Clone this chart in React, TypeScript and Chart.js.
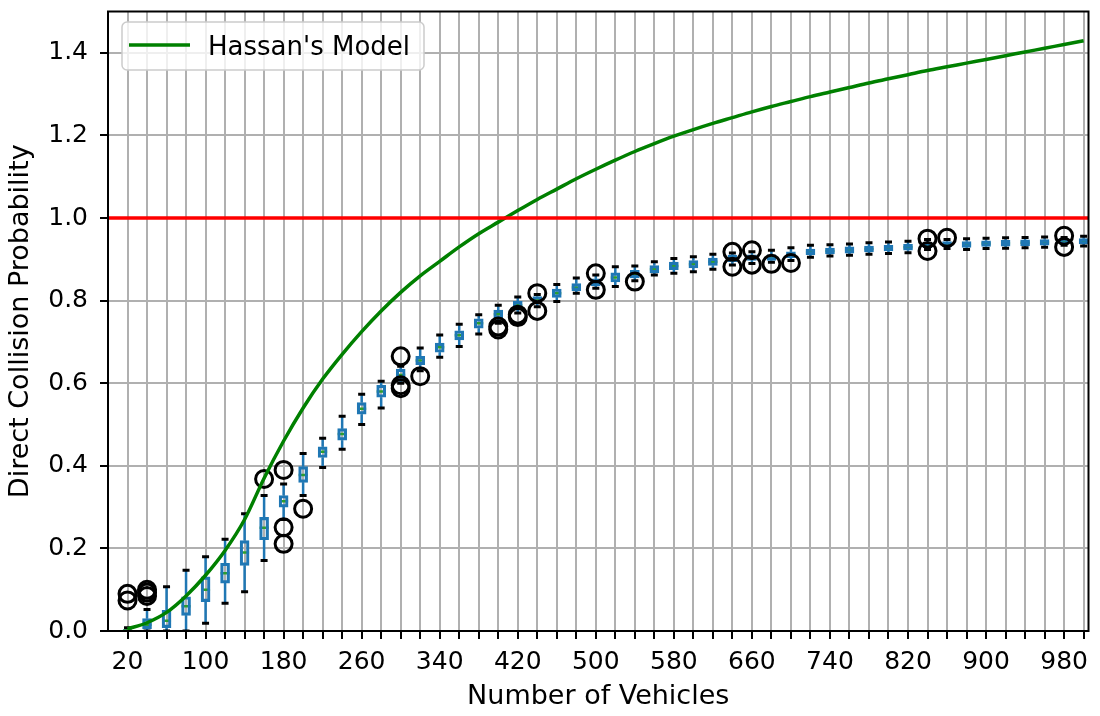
import React, { useEffect, useRef } from "react";
import { Chart, registerables } from "chart.js";

Chart.register(...registerables);

// Number of vehicles on the x axis (one box per count)
const vehicleCounts = [
  20, 40, 60, 80, 100, 120, 140, 160, 180, 200,
  220, 240, 260, 280, 300, 320, 340, 360, 380, 400,
  420, 440, 460, 480, 500, 520, 540, 560, 580, 600,
  620, 640, 660, 680, 700, 720, 740, 760, 780, 800,
  820, 840, 860, 880, 900, 920, 940, 960, 980, 1000,
];

// Box-plot statistics of the simulated direct collision probability
const whiskerLow = [
  0.0, 0.0, 0.0, 0.0, 0.019, 0.067, 0.095, 0.171, 0.27, 0.328,
  0.396, 0.44, 0.5, 0.54, 0.6, 0.63, 0.663, 0.689, 0.719, 0.745,
  0.77, 0.785, 0.798, 0.818, 0.83, 0.834, 0.848, 0.862, 0.866, 0.87,
  0.876, 0.886, 0.89, 0.893, 0.897, 0.905, 0.908, 0.91, 0.912, 0.914,
  0.916, 0.924, 0.926, 0.924, 0.926, 0.927, 0.928, 0.929, 0.934, 0.932,
];
const quartile1 = [
  0.0, 0.005, 0.008, 0.038, 0.071, 0.116, 0.159, 0.221, 0.3, 0.36,
  0.42, 0.462, 0.525, 0.566, 0.605, 0.645, 0.675, 0.705, 0.733, 0.757,
  0.78, 0.794, 0.808, 0.824, 0.836, 0.845, 0.855, 0.867, 0.875, 0.879,
  0.885, 0.894, 0.897, 0.897, 0.904, 0.911, 0.913, 0.915, 0.918, 0.92,
  0.922, 0.928, 0.93, 0.929, 0.931, 0.932, 0.933, 0.934, 0.937, 0.937,
];
const medians = [
  0.001, 0.015, 0.025, 0.06, 0.1, 0.14, 0.19, 0.25, 0.314, 0.378,
  0.434, 0.477, 0.538, 0.58, 0.62, 0.655, 0.687, 0.716, 0.745, 0.767,
  0.789, 0.802, 0.818, 0.832, 0.845, 0.856, 0.864, 0.876, 0.884, 0.888,
  0.894, 0.902, 0.904, 0.904, 0.911, 0.918, 0.92, 0.922, 0.925, 0.927,
  0.929, 0.935, 0.937, 0.936, 0.938, 0.939, 0.94, 0.941, 0.943, 0.944,
];
const quartile3 = [
  0.003, 0.03, 0.05, 0.083, 0.131, 0.164, 0.219, 0.275, 0.328, 0.398,
  0.446, 0.49, 0.553, 0.595, 0.634, 0.665, 0.697, 0.727, 0.756, 0.777,
  0.798, 0.81, 0.828, 0.841, 0.853, 0.867, 0.873, 0.885, 0.893, 0.897,
  0.903, 0.91, 0.911, 0.911, 0.918, 0.925, 0.927, 0.93, 0.932, 0.934,
  0.936, 0.941, 0.943, 0.943, 0.945, 0.946, 0.947, 0.948, 0.949, 0.95,
];
const whiskerHigh = [
  0.008, 0.052, 0.107, 0.147, 0.18, 0.222, 0.284, 0.328, 0.356, 0.43,
  0.467, 0.52, 0.573, 0.605, 0.641, 0.685, 0.717, 0.743, 0.766, 0.789,
  0.809, 0.815, 0.839, 0.855, 0.862, 0.882, 0.884, 0.894, 0.902, 0.906,
  0.912, 0.915, 0.918, 0.922, 0.928, 0.934, 0.935, 0.937, 0.94, 0.942,
  0.944, 0.948, 0.948, 0.95, 0.951, 0.952, 0.953, 0.954, 0.953, 0.956,
];

// Outliers (fliers): vehicle count and probability
const outlierCounts = [
  20, 20, 40, 40, 40, 160, 180, 180, 180, 200,
  300, 300, 300, 320, 400, 400, 420, 420, 440, 440,
  500, 500, 540, 640, 640, 660, 660, 680, 700, 840,
  840, 860, 980, 980,
];
const outlierValues = [
  0.09, 0.074, 0.1, 0.093, 0.085, 0.368, 0.39, 0.251, 0.211, 0.296,
  0.665, 0.595, 0.588, 0.617, 0.737, 0.73, 0.766, 0.76, 0.818, 0.775,
  0.866, 0.826, 0.846, 0.918, 0.882, 0.922, 0.887, 0.889, 0.891, 0.95,
  0.92, 0.952, 0.957, 0.93,
];

// Analytical model curve
const hassanModel = [
  0.005, 0.02, 0.045, 0.085, 0.135, 0.195, 0.27, 0.37, 0.46, 0.54,
  0.61, 0.67, 0.725, 0.775, 0.82, 0.86, 0.895, 0.93, 0.962, 0.99,
  1.018, 1.045, 1.07, 1.095, 1.118, 1.14, 1.161, 1.18, 1.198, 1.214,
  1.229, 1.243, 1.257, 1.27, 1.282, 1.294, 1.305, 1.316, 1.327, 1.337,
  1.347, 1.357, 1.366, 1.375, 1.384, 1.393, 1.402, 1.411, 1.42, 1.429,
];

const probabilityLimit = 1.0;

const xTickLabels = [20, 100, 180, 260, 340, 420, 500, 580, 660, 740, 820, 900, 980];
const yTickValues = [0, 0.2, 0.4, 0.6, 0.8, 1.0, 1.2, 1.4];

const FONT = "'DejaVu Sans', 'Liberation Sans', sans-serif";
const BOX_BLUE = "#1f77b4";
const MEDIAN_GREEN = "#2ca02c";
const MODEL_GREEN = "#008000";

// Whiskers, caps and medians, drawn through the chart's own scales
const boxWhiskerPlugin = {
  id: "boxWhiskers",
  beforeDatasetsDraw(chart: any) {
    const { ctx, chartArea, scales } = chart;
    const xs = scales.x;
    const ys = scales.y;
    const seg = (x1: number, y1: number, x2: number, y2: number) => {
      ctx.beginPath();
      ctx.moveTo(x1, y1);
      ctx.lineTo(x2, y2);
      ctx.stroke();
    };
    ctx.save();
    ctx.beginPath();
    ctx.rect(chartArea.left, chartArea.top, chartArea.width, chartArea.height);
    ctx.clip();
    vehicleCounts.forEach((count, i) => {
      const px = xs.getPixelForValue(count);
      const yLo = ys.getPixelForValue(whiskerLow[i]);
      const yQ1 = ys.getPixelForValue(quartile1[i]);
      const yMed = ys.getPixelForValue(medians[i]);
      const yQ3 = ys.getPixelForValue(quartile3[i]);
      const yHi = ys.getPixelForValue(whiskerHigh[i]);
      ctx.lineWidth = 2.5;
      ctx.strokeStyle = BOX_BLUE;
      seg(px, yQ3, px, yHi);
      seg(px, yQ1, px, yLo);
      ctx.lineWidth = 3;
      ctx.strokeStyle = "#000";
      seg(px - 3.5, yHi, px + 3.5, yHi);
      seg(px - 3.5, yLo, px + 3.5, yLo);
      ctx.lineWidth = 2.5;
      ctx.strokeStyle = MEDIAN_GREEN;
      seg(px - 4.5, yMed, px + 4.5, yMed);
    });
    ctx.restore();
  },
};

// Axes frame and the legend box in the upper-left corner
const frameLegendPlugin = {
  id: "frameLegend",
  afterDraw(chart: any) {
    const { ctx, chartArea } = chart;
    ctx.save();
    ctx.strokeStyle = "#000";
    ctx.lineWidth = 2;
    ctx.strokeRect(chartArea.left, chartArea.top, chartArea.width, chartArea.height);

    const model = chart.data.datasets.find((d: any) => d.id === "model");
    const bx = 122, by = 22, bw = 302, bh = 48, r = 5;
    ctx.beginPath();
    ctx.moveTo(bx + r, by);
    ctx.arcTo(bx + bw, by, bx + bw, by + bh, r);
    ctx.arcTo(bx + bw, by + bh, bx, by + bh, r);
    ctx.arcTo(bx, by + bh, bx, by, r);
    ctx.arcTo(bx, by, bx + bw, by, r);
    ctx.closePath();
    ctx.fillStyle = "rgba(255,255,255,0.8)";
    ctx.fill();
    ctx.strokeStyle = "#cccccc";
    ctx.lineWidth = 1.5;
    ctx.stroke();

    ctx.strokeStyle = model.borderColor;
    ctx.lineWidth = 3.5;
    ctx.beginPath();
    ctx.moveTo(129, 45);
    ctx.lineTo(190, 45);
    ctx.stroke();

    ctx.fillStyle = "#000";
    ctx.font = `26px ${FONT}`;
    ctx.textBaseline = "alphabetic";
    ctx.textAlign = "left";
    ctx.fillText(model.label, 208, 55);
    ctx.restore();
  },
};

export default function App() {
  const canvasRef = useRef<HTMLCanvasElement>(null);

  useEffect(() => {
    const canvas = canvasRef.current;
    if (!canvas) return;

    const boxes = vehicleCounts.map((c, i) => ({ x: c, y: [quartile1[i], quartile3[i]] }));
    const fliers = outlierCounts.map((c, i) => ({ x: c, y: outlierValues[i] }));
    const modelPts = vehicleCounts.map((c, i) => ({ x: c, y: hassanModel[i] }));

    const chart = new Chart(canvas, {
      type: "bar",
      data: {
        datasets: [
          {
            id: "limit",
            type: "line",
            label: "limit",
            data: [
              { x: 0, y: probabilityLimit },
              { x: 1005, y: probabilityLimit },
            ],
            borderColor: "#ff0000",
            borderWidth: 3.5,
            pointRadius: 0,
            order: 1,
          },
          {
            id: "model",
            type: "line",
            label: "Hassan's Model",
            data: modelPts,
            borderColor: MODEL_GREEN,
            borderWidth: 3.5,
            pointRadius: 0,
            cubicInterpolationMode: "monotone",
            order: 2,
          },
          {
            id: "fliers",
            type: "scatter",
            label: "fliers",
            data: fliers,
            pointStyle: "circle",
            pointRadius: 8.5,
            borderColor: "#000",
            borderWidth: 3,
            backgroundColor: "rgba(0,0,0,0)",
            order: 3,
          },
          {
            id: "boxes",
            type: "bar",
            label: "boxes",
            data: boxes,
            backgroundColor: "rgba(0,0,0,0)",
            borderColor: BOX_BLUE,
            borderWidth: 2.5,
            borderSkipped: false,
            barThickness: 9,
            order: 4,
          },
        ] as any,
      },
      plugins: [boxWhiskerPlugin, frameLegendPlugin],
      options: {
        responsive: false,
        animation: false,
        devicePixelRatio: 1,
        events: [],
        layout: { padding: { top: 10, right: 5, left: 0, bottom: 0 } },
        plugins: {
          legend: { display: false },
          tooltip: { enabled: false },
        },
        scales: {
          x: {
            type: "linear",
            offset: false,
            min: 0,
            max: 1005,
            afterFit: (scale: any) => {
              scale.height = 85;
              scale.paddingLeft = 0;
              scale.paddingRight = 0;
            },
            afterBuildTicks: (scale: any) => {
              scale.ticks = vehicleCounts.map((v) => ({ value: v }));
            },
            grid: {
              color: "#b0b0b0",
              lineWidth: 2,
              drawTicks: true,
              tickLength: 8,
              tickColor: "#000",
              tickWidth: 2,
              offset: false,
            },
            border: { display: false },
            ticks: {
              autoSkip: false,
              maxRotation: 0,
              minRotation: 0,
              padding: 8,
              color: "#000",
              font: { family: FONT, size: 25 },
              callback: (value: any) => (xTickLabels.includes(Number(value)) ? String(value) : ""),
            },
            title: {
              display: true,
              text: "Number of Vehicles",
              color: "#000",
              font: { family: FONT, size: 27 },
              padding: { top: 0, bottom: 3 },
            },
          },
          y: {
            type: "linear",
            min: 0,
            max: 1.5,
            afterFit: (scale: any) => {
              scale.width = 108;
              scale.paddingTop = 0;
              scale.paddingBottom = 0;
            },
            afterBuildTicks: (scale: any) => {
              scale.ticks = yTickValues.map((v) => ({ value: v }));
            },
            grid: {
              color: "#b0b0b0",
              lineWidth: 2,
              drawTicks: true,
              tickLength: 8,
              tickColor: "#000",
              tickWidth: 2,
            },
            border: { display: false },
            ticks: {
              padding: 12,
              color: "#000",
              font: { family: FONT, size: 25 },
              callback: (value: any) => Number(value).toFixed(1),
            },
            title: {
              display: true,
              text: "Direct Collision Probability",
              color: "#000",
              font: { family: FONT, size: 27 },
              padding: { top: 5, bottom: 0 },
            },
          },
        },
      } as any,
    });

    return () => chart.destroy();
  }, []);

  return (
    <div style={{ position: "fixed", left: 0, top: 0, width: 1100, height: 716, background: "#fff" }}>
      <canvas ref={canvasRef} width={1100} height={716} style={{ display: "block", width: 1100, height: 716 }} />
    </div>
  );
}
